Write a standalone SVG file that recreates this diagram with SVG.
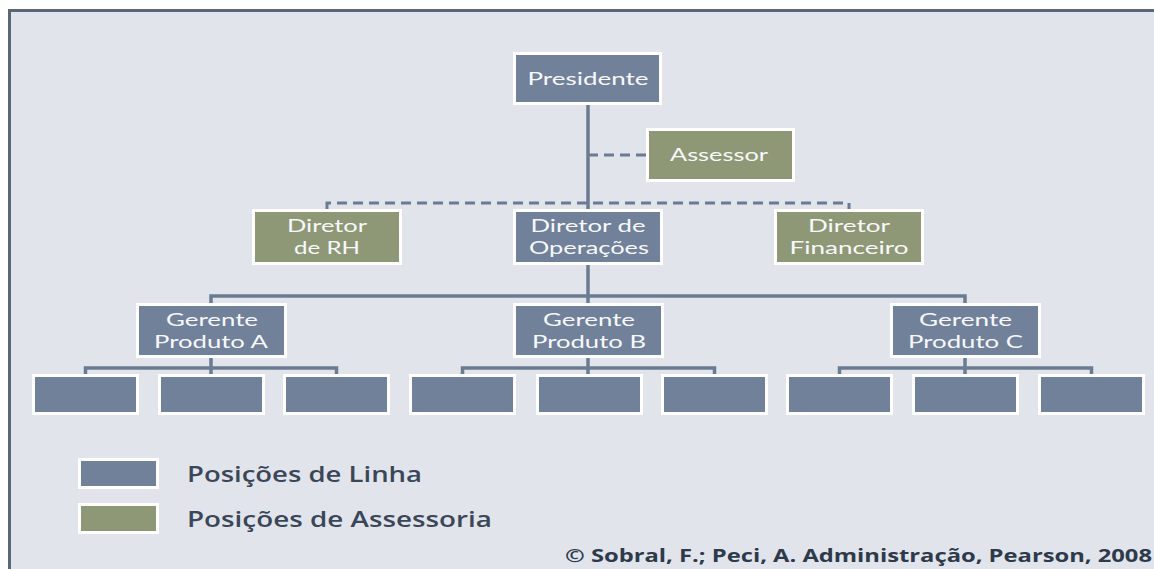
<svg xmlns="http://www.w3.org/2000/svg" width="1154" height="569" viewBox="0 0 1154 569">
<style>
.line{fill:#71819a;stroke:#ffffff;stroke-width:3}
.staff{fill:#8e9877;stroke:#ffffff;stroke-width:3}
.t{font-family:Lato,"Open Sans","Liberation Sans",sans-serif;font-size:18px;fill:#f7f8fa;text-anchor:middle}
.c{fill:none;stroke:#6b7b92;stroke-width:3.5}
.d{fill:none;stroke:#6b7b92;stroke-width:3;stroke-dasharray:10 6}
.lg{font-family:"Open Sans","Liberation Sans",sans-serif;font-size:21px;font-weight:600;fill:#3b4658}
.cp{font-family:"Open Sans","Liberation Sans",sans-serif;font-size:18px;font-weight:700;fill:#2e3a4c}
</style>
<rect x="0" y="0" width="1154" height="569" fill="#ffffff"/>
<rect x="9" y="10" width="1145" height="559" fill="#e1e5eb"/>
<path d="M9.5 569 V10.5 H1154" fill="none" stroke="#5b6779" stroke-width="3"/>

<g id="connectors">
  <path class="d" d="M588 155 H646"/>
  <path class="d" d="M327 209 V203 H849 V209"/>
  <path class="c" d="M588 105 V209"/>
  <path class="c" d="M588 265 V303 M211 303 V296 H965 V303"/>
  <path class="c" d="M211 358 V374 M85.5 374 V368 H336.5 V374"/>
  <path class="c" d="M588 358 V374 M462.5 374 V368 H714.5 V374"/>
  <path class="c" d="M965 358 V374 M839.5 374 V368 H1091.5 V374"/>
</g>

<g id="presidente">
  <rect class="line" x="514.5" y="53.5" width="146" height="50"/>
  <text class="t" x="588" y="85" textLength="121" lengthAdjust="spacingAndGlyphs">Presidente</text>
</g>
<g id="assessor">
  <rect class="staff" x="647.5" y="129.5" width="146" height="51"/>
  <text class="t" x="719" y="161" textLength="98" lengthAdjust="spacingAndGlyphs">Assessor</text>
</g>
<g id="diretor-rh">
  <rect class="staff" x="253.5" y="210.5" width="147" height="53"/>
  <text class="t"><tspan x="327" y="232" textLength="80" lengthAdjust="spacingAndGlyphs">Diretor</tspan><tspan x="327" y="254" textLength="66" lengthAdjust="spacingAndGlyphs">de RH</tspan></text>
</g>
<g id="diretor-operacoes">
  <rect class="line" x="514.5" y="210.5" width="147" height="53"/>
  <text class="t"><tspan x="588" y="232" textLength="115" lengthAdjust="spacingAndGlyphs">Diretor de</tspan><tspan x="589" y="254" textLength="120" lengthAdjust="spacingAndGlyphs">Operações</tspan></text>
</g>
<g id="diretor-financeiro">
  <rect class="staff" x="775.5" y="210.5" width="147" height="53"/>
  <text class="t"><tspan x="849" y="232" textLength="82" lengthAdjust="spacingAndGlyphs">Diretor</tspan><tspan x="849" y="254" textLength="119" lengthAdjust="spacingAndGlyphs">Financeiro</tspan></text>
</g>
<g id="gerente-a">
  <rect class="line" x="137.5" y="304.5" width="148" height="52"/>
  <text class="t"><tspan x="212" y="326" textLength="92" lengthAdjust="spacingAndGlyphs">Gerente</tspan><tspan x="211" y="348" textLength="114" lengthAdjust="spacingAndGlyphs">Produto A</tspan></text>
</g>
<g id="gerente-b">
  <rect class="line" x="514.5" y="304.5" width="148" height="52"/>
  <text class="t"><tspan x="589" y="326" textLength="92" lengthAdjust="spacingAndGlyphs">Gerente</tspan><tspan x="589" y="348" textLength="114" lengthAdjust="spacingAndGlyphs">Produto B</tspan></text>
</g>
<g id="gerente-c">
  <rect class="line" x="891.5" y="304.5" width="148" height="52"/>
  <text class="t"><tspan x="965.5" y="326" textLength="93" lengthAdjust="spacingAndGlyphs">Gerente</tspan><tspan x="965.5" y="348" textLength="115" lengthAdjust="spacingAndGlyphs">Produto C</tspan></text>
</g>
<g id="a1"><rect class="line" x="33.5" y="375.5" width="104" height="38"/></g>
<g id="a2"><rect class="line" x="159.5" y="375.5" width="104" height="38"/></g>
<g id="a3"><rect class="line" x="284.5" y="375.5" width="104" height="38"/></g>
<g id="b1"><rect class="line" x="410.5" y="375.5" width="104" height="38"/></g>
<g id="b2"><rect class="line" x="537.5" y="375.5" width="104" height="38"/></g>
<g id="b3"><rect class="line" x="662.5" y="375.5" width="104" height="38"/></g>
<g id="c1"><rect class="line" x="787.5" y="375.5" width="104" height="38"/></g>
<g id="c2"><rect class="line" x="913.5" y="375.5" width="104" height="38"/></g>
<g id="c3"><rect class="line" x="1039.5" y="375.5" width="104" height="38"/></g>

<g id="legend">
  <rect class="line" x="79.5" y="459.5" width="78" height="28"/>
  <text class="lg" x="187" y="482" textLength="235" lengthAdjust="spacingAndGlyphs">Posições de Linha</text>
  <rect class="staff" x="79.5" y="504.5" width="78" height="28"/>
  <text class="lg" x="187" y="527" textLength="305" lengthAdjust="spacingAndGlyphs">Posições de Assessoria</text>
</g>
<text class="cp" x="565" y="562" textLength="587" lengthAdjust="spacingAndGlyphs">© Sobral, F.; Peci, A. Administração, Pearson, 2008</text>
</svg>
